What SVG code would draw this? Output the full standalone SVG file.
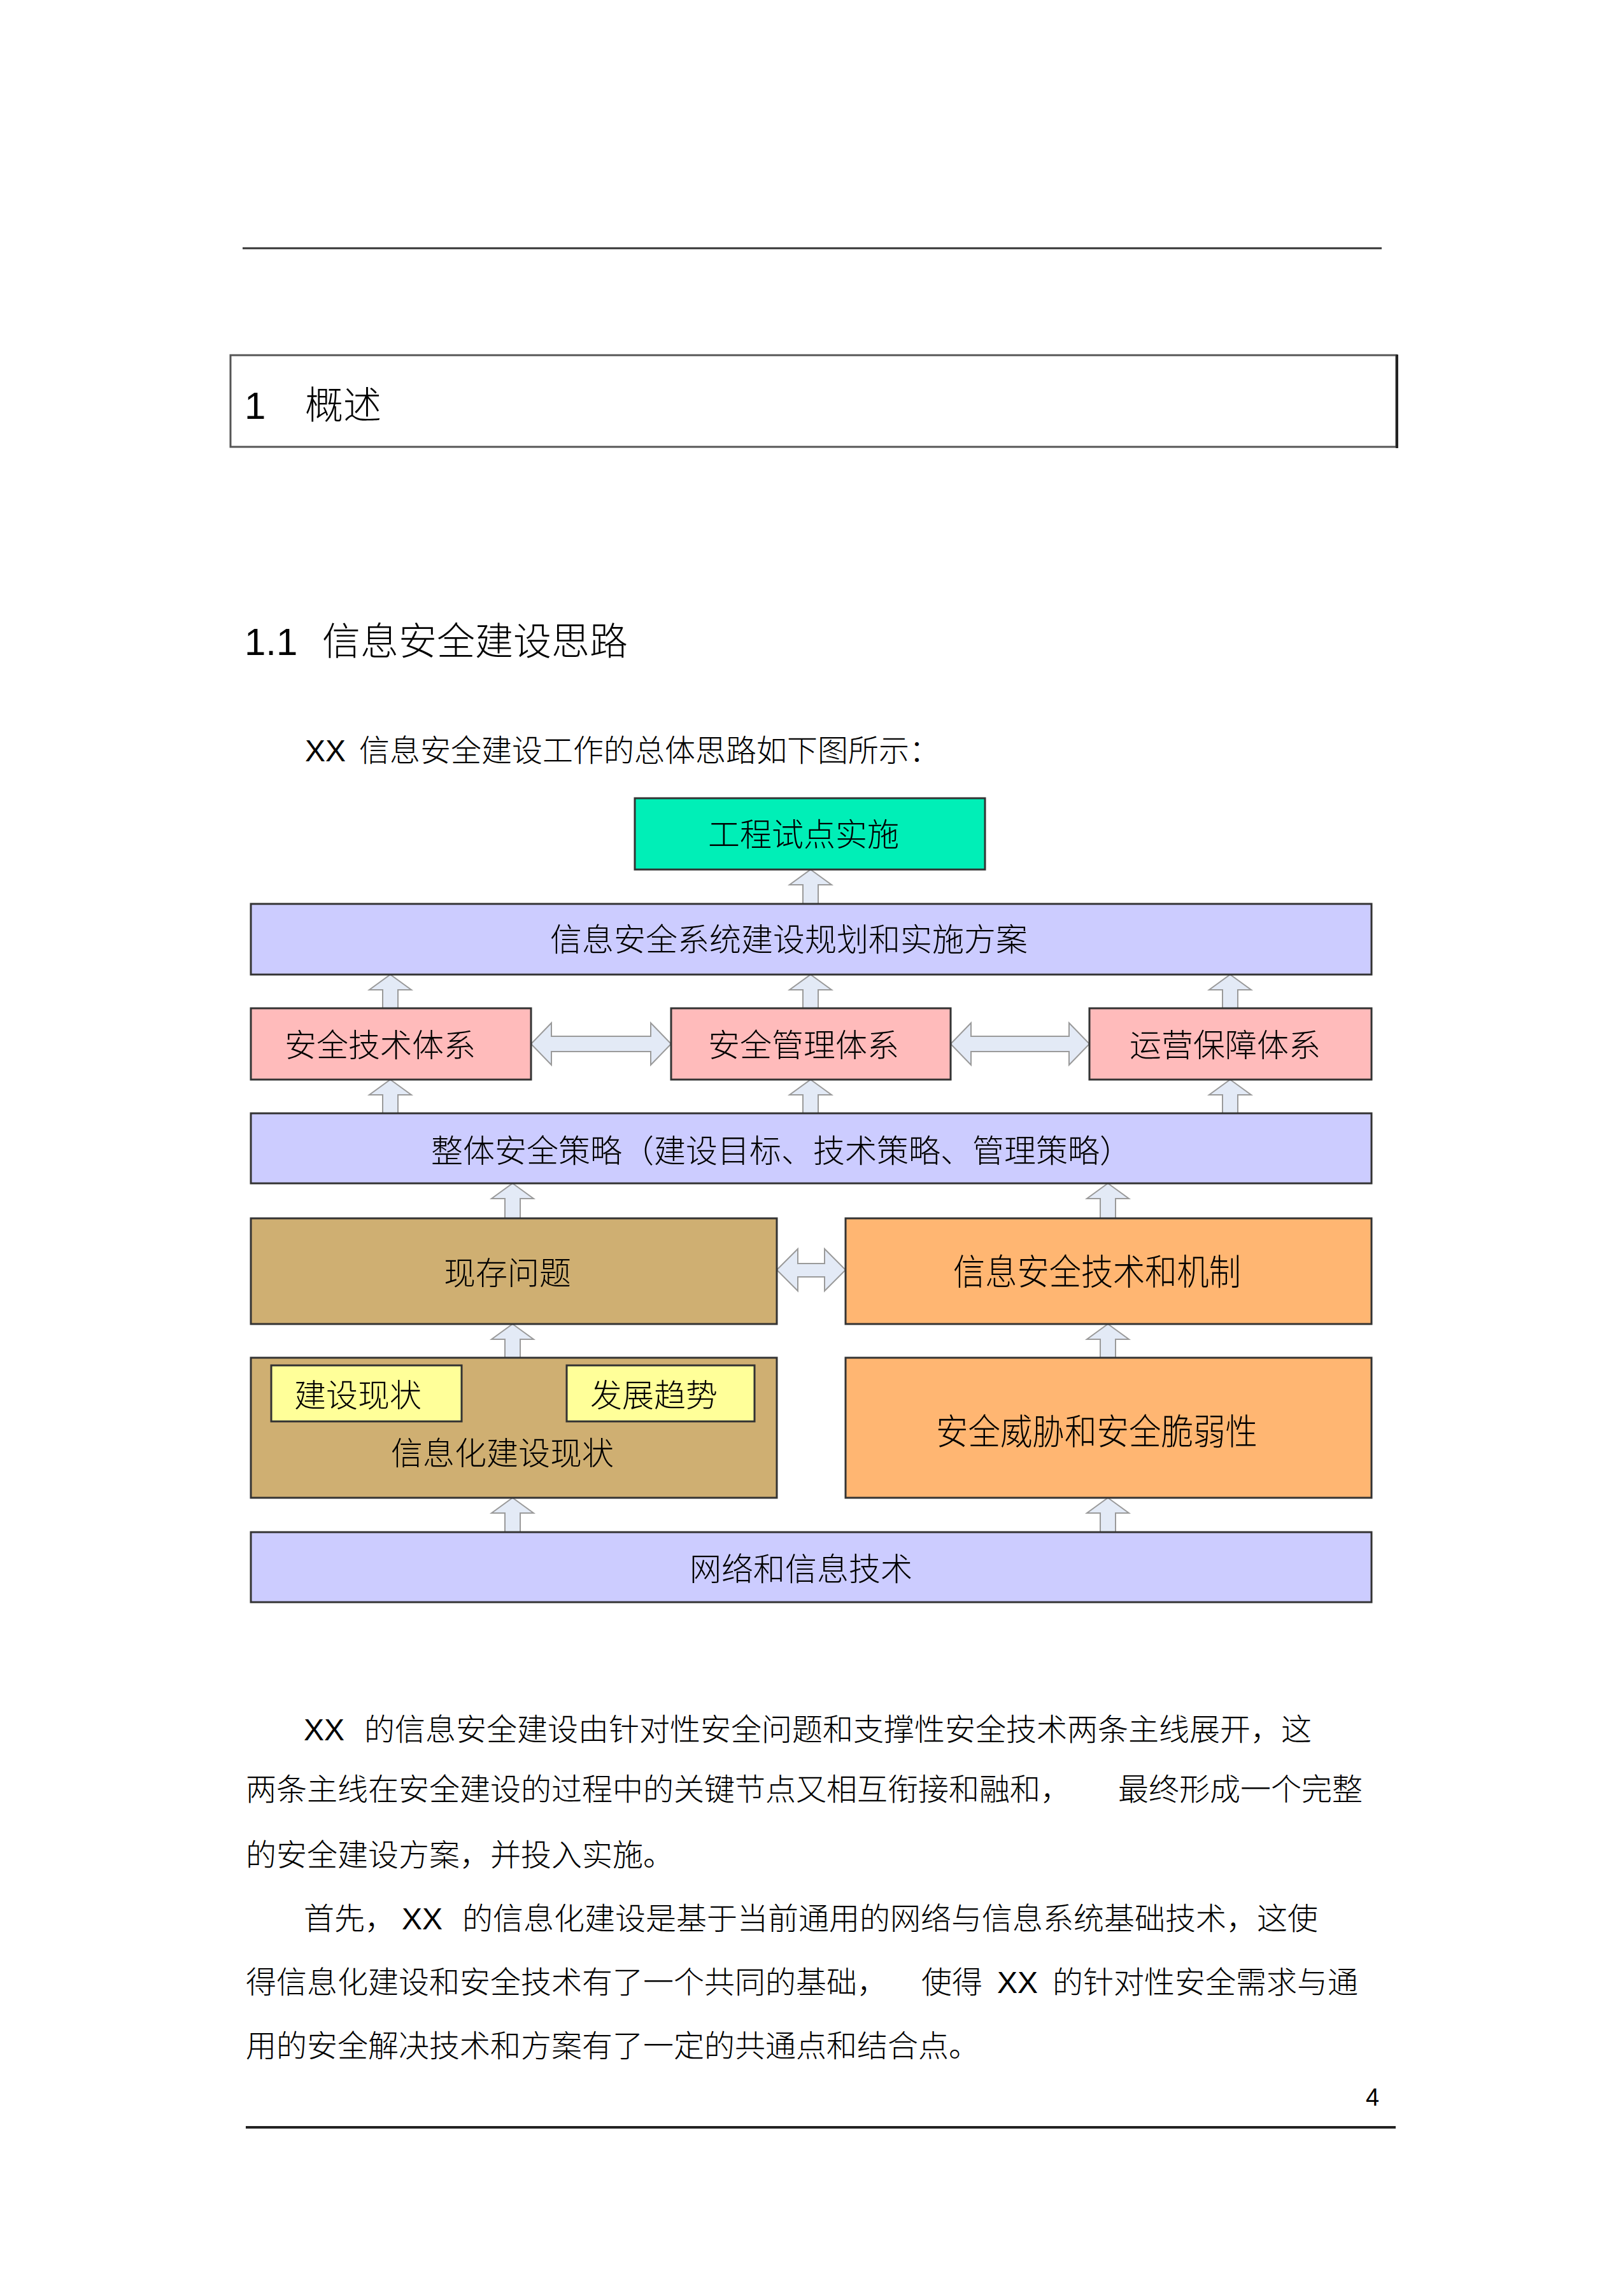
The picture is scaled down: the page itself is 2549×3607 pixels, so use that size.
<svg xmlns="http://www.w3.org/2000/svg" width="2549" height="3607" viewBox="0 0 2549 3607">
<style>
text{font-family:"Liberation Sans","Noto Sans CJK SC",sans-serif;fill:#000;font-weight:300}
.body{font-size:48px}
.h{font-size:60px}
.t50{font-size:50px}
.t56{font-size:56px}
.box{stroke:#333;stroke-width:3}
.arr{fill:#E3EAF6;stroke:#9a9a9a;stroke-width:2;stroke-linejoin:miter}
.rule{stroke:#333;stroke-width:3}
</style>
<rect width="2549" height="3607" fill="#fff"/>

<g id="page">
<line class="rule" x1="381" y1="390" x2="2170" y2="390"/>
<rect x="362" y="558" width="1831" height="144" fill="none" stroke="#555" stroke-width="3"/>
<line x1="2194" y1="557" x2="2194" y2="704" stroke="#222" stroke-width="4"/>
<text class="h" y="658"><tspan x="384">1</tspan><tspan x="479">概述</tspan></text>
<text class="h" y="1029"><tspan x="384">1.1 </tspan><tspan x="506">信息安全建设思路</tspan></text>
<text class="body" y="1196"><tspan x="479">XX </tspan><tspan x="564">信息安全建设工作的总体思路如下图所示：</tspan></text>
</g>

<g id="connectors">
<path class="arr" d="M1273,1366 L1306,1390 L1285,1390 L1285,1420 L1261,1420 L1261,1390 L1240,1390 Z"/>
<path class="arr" d="M613,1531 L646,1555 L625,1555 L625,1584 L601,1584 L601,1555 L580,1555 Z"/>
<path class="arr" d="M1273,1531 L1306,1555 L1285,1555 L1285,1584 L1261,1584 L1261,1555 L1240,1555 Z"/>
<path class="arr" d="M1932,1531 L1965,1555 L1944,1555 L1944,1584 L1920,1584 L1920,1555 L1899,1555 Z"/>
<path class="arr" d="M613,1696 L646,1720 L625,1720 L625,1749 L601,1749 L601,1720 L580,1720 Z"/>
<path class="arr" d="M1273,1696 L1306,1720 L1285,1720 L1285,1749 L1261,1749 L1261,1720 L1240,1720 Z"/>
<path class="arr" d="M1932,1696 L1965,1720 L1944,1720 L1944,1749 L1920,1749 L1920,1720 L1899,1720 Z"/>
<path class="arr" d="M805,1859 L838,1883 L817,1883 L817,1914 L793,1914 L793,1883 L772,1883 Z"/>
<path class="arr" d="M1740,1859 L1773,1883 L1752,1883 L1752,1914 L1728,1914 L1728,1883 L1707,1883 Z"/>
<path class="arr" d="M805,2080 L838,2104 L817,2104 L817,2133 L793,2133 L793,2104 L772,2104 Z"/>
<path class="arr" d="M1740,2080 L1773,2104 L1752,2104 L1752,2133 L1728,2133 L1728,2104 L1707,2104 Z"/>
<path class="arr" d="M805,2353 L838,2377 L817,2377 L817,2407 L793,2407 L793,2377 L772,2377 Z"/>
<path class="arr" d="M1740,2353 L1773,2377 L1752,2377 L1752,2407 L1728,2407 L1728,2377 L1707,2377 Z"/>
<path class="arr" d="M834,1640 L866,1607 L866,1628 L1022,1628 L1022,1607 L1054,1640 L1022,1673 L1022,1652 L866,1652 L866,1673 Z"/>
<path class="arr" d="M1493,1640 L1525,1607 L1525,1628 L1679,1628 L1679,1607 L1711,1640 L1679,1673 L1679,1652 L1525,1652 L1525,1673 Z"/>
<path class="arr" d="M1220,1995 L1253,1962 L1253,1985 L1295,1985 L1295,1962 L1328,1995 L1295,2028 L1295,2006 L1253,2006 L1253,2028 Z"/>
</g>

<g id="n-pilot">
<rect class="box" x="997" y="1254" width="550" height="112" fill="#00EFB7"/>
<text class="t50" x="1112" y="1329">工程试点实施</text>
</g>
<g id="n-plan">
<rect class="box" x="394" y="1420" width="1760" height="111" fill="#CCCCFF"/>
<text class="t50" x="864" y="1494">信息安全系统建设规划和实施方案</text>
</g>
<g id="n-tech">
<rect class="box" x="394" y="1584" width="440" height="112" fill="#FFBBBB"/>
<text class="t50" x="447" y="1660">安全技术体系</text>
</g>
<g id="n-mgmt">
<rect class="box" x="1054" y="1584" width="439" height="112" fill="#FFBBBB"/>
<text class="t50" x="1112" y="1660">安全管理体系</text>
</g>
<g id="n-ops">
<rect class="box" x="1711" y="1584" width="443" height="112" fill="#FFBBBB"/>
<text class="t50" x="1774" y="1660">运营保障体系</text>
</g>
<g id="n-strategy">
<rect class="box" x="394" y="1749" width="1760" height="110" fill="#CCCCFF"/>
<text class="t50" x="677" y="1826">整体安全策略（建设目标、技术策略、管理策略）</text>
</g>
<g id="n-problems">
<rect class="box" x="394" y="1914" width="826" height="166" fill="#CFAF72"/>
<text class="t50" x="697" y="2018">现存问题</text>
</g>
<g id="n-mechanism">
<rect class="box" x="1328" y="1914" width="826" height="166" fill="#FFB672"/>
<text class="t56" x="1497" y="2018" textLength="452" lengthAdjust="spacingAndGlyphs">信息安全技术和机制</text>
</g>
<g id="n-status">
<rect class="box" x="394" y="2133" width="826" height="220" fill="#CFAF72"/>
<text class="t50" x="614" y="2301">信息化建设现状</text>
</g>
<g id="n-current">
<rect class="box" x="426" y="2145" width="299" height="88" fill="#FFFF99"/>
<text class="t50" x="462" y="2210">建设现状</text>
</g>
<g id="n-trend">
<rect class="box" x="890" y="2145" width="295" height="88" fill="#FFFF99"/>
<text class="t50" x="927" y="2210">发展趋势</text>
</g>
<g id="n-threat">
<rect class="box" x="1328" y="2133" width="826" height="220" fill="#FFB672"/>
<text class="t56" x="1470" y="2269" textLength="505" lengthAdjust="spacingAndGlyphs">安全威胁和安全脆弱性</text>
</g>
<g id="n-network">
<rect class="box" x="394" y="2407" width="1760" height="110" fill="#CCCCFF"/>
<text class="t50" x="1083" y="2483">网络和信息技术</text>
</g>

<g id="body-text">
<text class="body" y="2734"><tspan x="477">XX </tspan><tspan x="572">的信息安全建设由针对性安全问题和支撑性安全技术两条主线展开，这</tspan></text>
<text class="body" y="2828"><tspan x="386">两条主线在安全建设的过程中的关键节点又相互衔接和融和，</tspan><tspan x="1756">最终形成一个完整</tspan></text>
<text class="body" y="2931" x="386">的安全建设方案，并投入实施。</text>
<text class="body" y="3031"><tspan x="477">首先，</tspan><tspan x="631">XX </tspan><tspan x="726">的信息化建设是基于当前通用的网络与信息系统基础技术，这使</tspan></text>
<text class="body" y="3131"><tspan x="386">得信息化建设和安全技术有了一个共同的基础，</tspan><tspan x="1447">使得 </tspan><tspan x="1566">XX </tspan><tspan x="1653">的针对性安全需求与通</tspan></text>
<text class="body" y="3231" x="386">用的安全解决技术和方案有了一定的共通点和结合点。</text>
<text x="2145" y="3308" font-size="38">4</text>
<line x1="386" y1="3342" x2="2192" y2="3342" stroke="#222" stroke-width="4"/>
</g>
</svg>
